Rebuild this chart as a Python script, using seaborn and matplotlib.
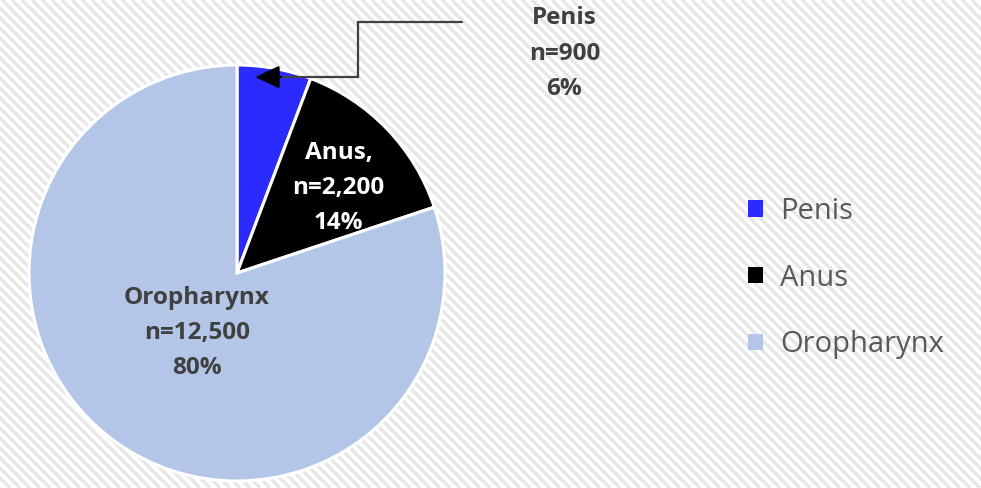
import matplotlib
matplotlib.use("Agg")
import matplotlib.pyplot as plt
import numpy as np
import seaborn as sns

sites = ["Penis", "Anus", "Oropharynx"]
cases = [900, 2200, 12500]
percent_labels = ["6%", "14%", "80%"]
case_labels = ["n=900", "n=2,200", "n=12,500"]
site_colors = ["#2b2bff", "#000000", "#b4c6e7"]

sns.set_theme(style="white")
plt.rcParams["font.family"] = ["Open Sans", "DejaVu Sans"]

W, H = 981, 488
fig = plt.figure(figsize=(W / 100, H / 100), dpi=100, facecolor="white")

# striped backdrop drawn in pixel space
bg = fig.add_axes([0, 0, 1, 1], zorder=-10)
bg.set_xlim(0, W)
bg.set_ylim(0, H)
bg.axis("off")
for x0 in np.arange(-H, W + 10, 10):
    bg.plot([x0, x0 + H], [H, 0], color="#e7e7e7", lw=2.4, solid_capstyle="butt")

cx, cy, r = 237, 273, 208
ax = fig.add_axes([(cx - r) / W, (H - cy - r) / H, 2 * r / W, 2 * r / H])
ax.patch.set_alpha(0)

wedges, _ = ax.pie(cases, colors=site_colors, startangle=90, counterclock=False,
                   radius=1, wedgeprops=dict(edgecolor="white", linewidth=2.2))
ax.set_xlim(-1, 1)
ax.set_ylim(-1, 1)
ax.set_aspect("auto")
ax.axis("off")

label_kw = dict(ha="center", va="center", fontsize=17.5, fontweight="bold",
                linespacing=1.62, clip_on=False)

ax.text(0.488, 0.41, f"{sites[1]},\n{case_labels[1]}\n{percent_labels[1]}",
        color="white", **label_kw)
ax.text(-0.193, -0.29, f"{sites[2]}\n{case_labels[2]}\n{percent_labels[2]}",
        color="#404040", **label_kw)
ax.text(1.574, 1.055, f"{sites[0]}\n{case_labels[0]}\n{percent_labels[0]}",
        color="#404040", **label_kw)

# elbow leader line to the small slice
ax.plot([1.082, 0.58, 0.58, 0.2], [1.208, 1.208, 0.942, 0.942],
        color="#404040", lw=1.6, clip_on=False, solid_joinstyle="miter")
ax.annotate("", xy=(0.087, 0.942), xytext=(0.21, 0.942),
            arrowprops=dict(arrowstyle="-|>,head_length=0.75,head_width=0.35",
                            mutation_scale=20, color="black", lw=1.6,
                            shrinkA=0, shrinkB=0),
            annotation_clip=False)

fig.legend(wedges, sites, loc="center left", bbox_to_anchor=(722 / W, 1 - 278 / H),
           frameon=False, fontsize=21, labelcolor="#595959",
           handlelength=0.5, handleheight=0.5, handletextpad=0.6,
           labelspacing=1.3)
for h in fig.legends[0].legend_handles:
    h.set_edgecolor("none")

fig.savefig("out.png", dpi=100, facecolor="white")
